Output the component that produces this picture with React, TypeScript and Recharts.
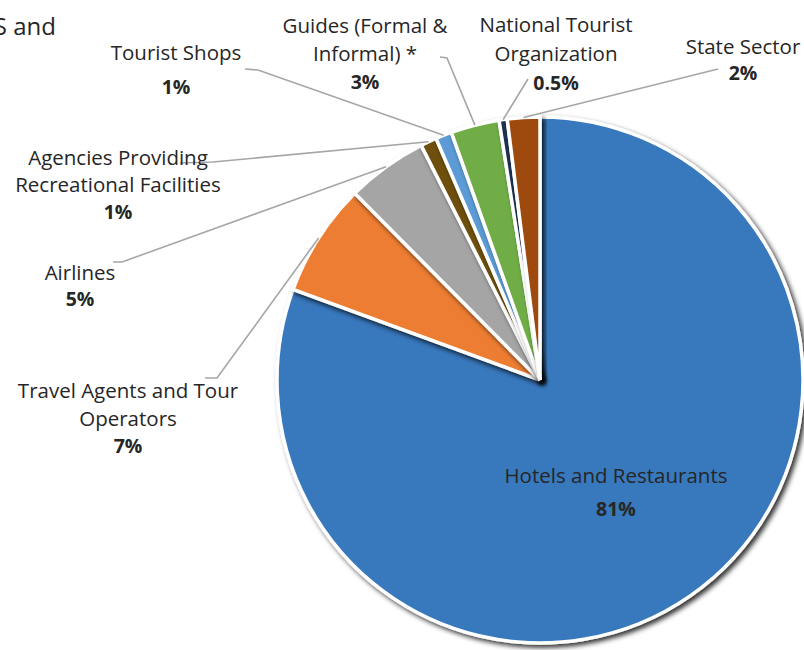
import { PieChart, Pie, Cell } from "recharts";

const sectorNames = [
  ["Hotels and Restaurants"],
  ["Travel Agents and Tour", "Operators"],
  ["Airlines"],
  ["Agencies Providing", "Recreational Facilities"],
  ["Tourist Shops"],
  ["Guides (Formal &", "Informal) *"],
  ["National Tourist", "Organization"],
  ["State Sector"],
];
const shares = [81, 7, 5, 1, 1, 3, 0.5, 2];
const shareLabels = ["81%", "7%", "5%", "1%", "1%", "3%", "0.5%", "2%"];
const sliceColors = [
  "#3778BD",
  "#ED7D31",
  "#A5A5A5",
  "#6E5009",
  "#5B9BD5",
  "#70AD47",
  "#1F3050",
  "#9E480E",
];

const data = shares.map((v, i) => ({ name: sectorNames[i].join(" "), value: v }));

// where each label sits, its line gap, and where its leader line bends
const spots = [
  { x: 616, y: 475, gap: 33, elbow: null },
  { x: 128, y: 390, gap: 27.5, elbow: [205, 378, 217, 378] },
  { x: 80, y: 272, gap: 26, elbow: [113, 262, 122, 262] },
  { x: 118, y: 157, gap: 27, elbow: [180, 163, 213, 162] },
  { x: 176, y: 52, gap: 34, elbow: [245, 69, 258, 70] },
  { x: 365, y: 25, gap: 28, elbow: [440, 57, 447, 58] },
  { x: 556, y: 24, gap: 29, elbow: [528, 79, 528, 79] },
  { x: 743, y: 46, gap: 26, elbow: [718, 69, 718, 69] },
];

const RADIAN = Math.PI / 180;
const FONT = "'Open Sans', sans-serif";

function renderLabel(props: any) {
  const { cx, cy, midAngle, outerRadius, index } = props;
  const s = spots[index];
  const lines = sectorNames[index];
  const ax = cx + outerRadius * Math.cos(-midAngle * RADIAN);
  const ay = cy + outerRadius * Math.sin(-midAngle * RADIAN);
  return (
    <g key={"lbl" + index}>
      {s.elbow && (
        <polyline
          points={`${s.elbow[0]},${s.elbow[1]} ${s.elbow[2]},${s.elbow[3]} ${ax},${ay}`}
          fill="none"
          stroke="#A6A6A6"
          strokeWidth={1.6}
        />
      )}
      {lines.map((t, i) => (
        <text
          key={i}
          x={s.x}
          y={s.y + i * s.gap}
          textAnchor="middle"
          dominantBaseline="central"
          fontFamily={FONT}
          fontSize={20.5}
          fill="#262626"
        >
          {t}
        </text>
      ))}
      <text
        x={s.x}
        y={s.y + lines.length * s.gap}
        textAnchor="middle"
        dominantBaseline="central"
        fontFamily={FONT}
        fontSize={19.5}
        fontWeight="bold"
        fill="#262626"
      >
        {shareLabels[index]}
      </text>
    </g>
  );
}

export default function App() {
  return (
    <div style={{ position: "absolute", left: 0, top: 0, width: 804, height: 650, background: "#fff" }}>
      <svg width={0} height={0} style={{ position: "absolute" }}>
        <defs>
          <filter id="pieShadow" x="-20%" y="-20%" width="140%" height="140%">
            <feDropShadow dx={3} dy={3} stdDeviation={2.5} floodColor="#000" floodOpacity={0.8} />
          </filter>
        </defs>
      </svg>
      <PieChart width={804} height={650} margin={{ top: 0, right: 0, bottom: 0, left: 0 }}>
        <Pie
          data={data}
          dataKey="value"
          nameKey="name"
          cx={540}
          cy={380}
          outerRadius={263}
          startAngle={90}
          endAngle={-270}
          stroke="#fff"
          strokeWidth={3.5}
          label={renderLabel}
          labelLine={false}
          isAnimationActive={false}
        >
          {data.map((d, i) => (
            <Cell key={d.name} fill={sliceColors[i]} filter="url(#pieShadow)" />
          ))}
        </Pie>
      </PieChart>
      <svg width={804} height={60} style={{ position: "absolute", left: 0, top: 0 }}>
        <text x={56} y={25} textAnchor="end" dominantBaseline="central" fontFamily={FONT} fontSize={24} fill="#262626">
          S and
        </text>
      </svg>
    </div>
  );
}
